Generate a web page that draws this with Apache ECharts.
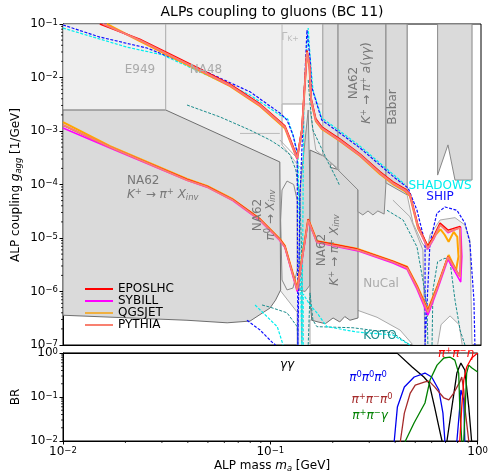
<!DOCTYPE html>
<html>
<head>
<meta charset="utf-8">
<script src="https://cdn.jsdelivr.net/npm/echarts@6/dist/echarts.min.js"></script>
<style>html,body{margin:0;padding:0;background:#fff}#main{width:491px;height:476px}</style>
</head>
<body>
<div id="main"></div>
<script>
// ---- model curves (upper branch then lower branch back) [mass GeV, g_agg 1/GeV]
var eposlhc = [[0.0150,0.1],[0.0233,0.052],[0.031,0.030],[0.0453,0.0144],[0.063,7.5e-3],[0.0877,3.2e-3],[0.1153,1.25e-3],[0.122,7.2e-4],[0.132,3.3e-4],[0.139,1.1e-3],[0.144,9.5e-3],[0.147,0.032],[0.151,0.018],[0.154,4.0e-3],[0.162,1.7e-3],[0.173,1.2e-3],[0.211,7.1e-4],[0.264,3.7e-4],[0.329,1.72e-4],[0.379,1.12e-4],[0.433,8.3e-5],[0.457,6.7e-5],[0.5,1.7e-5],[0.557,7.0e-6],[0.595,1.1e-5],[0.637,1.9e-5],[0.695,1.4e-5],[0.794,1.65e-5],[0.80,5.0e-6],[0.794,1.9e-6],[0.695,4.5e-6],[0.62,1.25e-6],[0.557,4.3e-7],[0.494,1.25e-6],[0.443,2.85e-6],[0.379,3.65e-6],[0.255,6.2e-6],[0.164,8.7e-6],[0.149,2.25e-5],[0.132,1.1e-6],[0.1153,7.0e-6],[0.109,9.5e-6],[0.0877,2.25e-5],[0.065,5.2e-5],[0.0489,9.2e-5],[0.0392,1.24e-4],[0.0168,5.0e-4],[0.01,1.29e-3]];
var sybill = [[0.0155,0.1],[0.0233,0.05],[0.031,0.0285],[0.0453,0.0137],[0.063,7.1e-3],[0.0877,3.0e-3],[0.1153,1.18e-3],[0.122,6.7e-4],[0.132,3.0e-4],[0.139,1.0e-3],[0.144,8.8e-3],[0.147,0.029],[0.151,0.0168],[0.154,3.7e-3],[0.162,1.58e-3],[0.173,1.13e-3],[0.211,6.7e-4],[0.264,3.5e-4],[0.329,1.62e-4],[0.379,1.06e-4],[0.433,7.8e-5],[0.457,6.3e-5],[0.5,1.6e-5],[0.557,6.2e-6],[0.595,9.6e-6],[0.637,1.8e-5],[0.695,1.25e-5],[0.80,1.6e-5],[0.81,4.5e-6],[0.80,1.5e-6],[0.695,4.0e-6],[0.62,1.1e-6],[0.557,3.6e-7],[0.494,1.1e-6],[0.443,2.6e-6],[0.379,3.4e-6],[0.255,5.8e-6],[0.164,8.2e-6],[0.149,2.1e-5],[0.132,1.0e-6],[0.1153,6.6e-6],[0.109,9.0e-6],[0.0877,2.1e-5],[0.065,5.0e-5],[0.0489,8.9e-5],[0.0392,1.2e-4],[0.0168,4.8e-4],[0.01,1.14e-3]];
var qgsjet = [[0.0162,0.1],[0.0233,0.048],[0.031,0.0275],[0.0453,0.0132],[0.063,6.9e-3],[0.0877,2.9e-3],[0.1153,1.13e-3],[0.122,6.5e-4],[0.132,3.0e-4],[0.139,1.0e-3],[0.144,8.6e-3],[0.147,0.028],[0.151,0.0163],[0.154,3.6e-3],[0.162,1.53e-3],[0.173,1.09e-3],[0.211,6.5e-4],[0.264,3.4e-4],[0.329,1.56e-4],[0.379,1.02e-4],[0.433,7.5e-5],[0.457,6.1e-5],[0.5,1.5e-5],[0.557,7.0e-6],[0.60,1.1e-5],[0.64,1.45e-5],[0.67,1.15e-5],[0.70,8.5e-6],[0.74,1.3e-5],[0.77,1.05e-5],[0.78,4.5e-6],[0.76,2.5e-6],[0.70,4.8e-6],[0.62,1.3e-6],[0.557,4.6e-7],[0.494,1.3e-6],[0.443,2.9e-6],[0.379,3.7e-6],[0.255,6.3e-6],[0.164,8.8e-6],[0.149,2.25e-5],[0.132,1.15e-6],[0.1153,7.1e-6],[0.109,9.6e-6],[0.0877,2.25e-5],[0.065,5.3e-5],[0.0489,9.4e-5],[0.0392,1.27e-4],[0.0168,5.2e-4],[0.01,1.47e-3]];
var pythia = [[0.0155,0.1],[0.0233,0.05],[0.031,0.0287],[0.0453,0.0138],[0.063,7.2e-3],[0.0877,3.06e-3],[0.1153,1.19e-3],[0.122,6.8e-4],[0.132,3.1e-4],[0.139,1.04e-3],[0.144,9.0e-3],[0.147,0.030],[0.151,0.0171],[0.154,3.8e-3],[0.162,1.6e-3],[0.173,1.14e-3],[0.211,6.8e-4],[0.264,3.56e-4],[0.329,1.64e-4],[0.379,1.07e-4],[0.433,7.9e-5],[0.457,6.4e-5],[0.5,1.6e-5],[0.557,6.5e-6],[0.595,1.0e-5],[0.637,1.75e-5],[0.695,1.3e-5],[0.794,1.54e-5],[0.80,4.8e-6],[0.794,1.87e-6],[0.695,4.4e-6],[0.62,1.21e-6],[0.557,4.1e-7],[0.494,1.21e-6],[0.443,2.75e-6],[0.379,3.56e-6],[0.255,6.0e-6],[0.164,8.4e-6],[0.149,2.17e-5],[0.132,1.07e-6],[0.1153,6.8e-6],[0.109,9.2e-6],[0.0877,2.17e-5],[0.065,5.1e-5],[0.0489,9.0e-5],[0.0392,1.21e-4],[0.0168,5.0e-4],[0.01,1.3e-3]];

// ---- projected sensitivities (dashed)
var ship = [[0.01,0.096],[0.015,0.057],[0.0252,0.0356],[0.0453,0.0144],[0.0785,5.4e-3],[0.109,2.17e-3],[0.118,1.6e-3],[0.126,8.4e-4],[0.132,3.9e-4],[0.133,1e-7],[0.1346,1e-7],[0.136,5.1e-5],[0.142,3.8e-3],[0.147,0.077],[0.152,0.023],[0.155,6.6e-3],[0.173,1.6e-3],[0.211,9.2e-4],[0.264,4.8e-4],[0.329,2.3e-4],[0.388,1.32e-4],[0.448,8.6e-5],[0.494,3.3e-5],[0.54,8.1e-6],[0.54,1e-7],[0.552,1e-7],[0.57,8.1e-6],[0.615,2.9e-5],[0.673,3.8e-5],[0.767,3.3e-5],[0.838,1.9e-5],[0.885,8.1e-6],[0.925,6.9e-7],[0.935,1e-7]];
var shipLow = [[0.0759,2.9e-7],[0.0877,1.9e-7],[0.101,1.09e-7],[0.104,1e-7]];
var shadows = [[0.01,0.084],[0.0202,0.037],[0.03,0.0264],[0.0453,0.0127],[0.0785,4.7e-3],[0.109,2.0e-3],[0.119,1.67e-3],[0.127,7.7e-4],[0.133,3.6e-4],[0.139,1e-7],[0.141,1e-7],[0.142,3.8e-3],[0.149,0.084],[0.152,0.0264],[0.157,5.8e-3],[0.173,1.75e-3],[0.211,1.0e-3],[0.264,5.2e-4],[0.329,2.5e-4],[0.388,1.44e-4],[0.433,1e-4]];
var shadowsLowA = [[0.083,5.6e-7],[0.0906,4.0e-7],[0.106,2.2e-7],[0.113,1e-7]];
var shadowsLowB = [[0.141,1e-7],[0.141,9e-7],[0.152,5.6e-7],[0.164,4.0e-7],[0.183,2.2e-7],[0.255,1.75e-7],[0.379,1.54e-7],[0.457,1e-7]];
var tealA = [[0.0392,3.06e-3],[0.0564,1.83e-3],[0.0785,1.04e-3],[0.0978,6.8e-4],[0.109,5.2e-4],[0.122,3.6e-4],[0.13,1.87e-4],[0.136,5.1e-5],[0.139,3.9e-6],[0.139,1e-7]];
var tealB = [[0.149,9e-3],[0.152,3.3e-3],[0.157,1.04e-3],[0.183,2.9e-4],[0.205,1.21e-4],[0.211,9.4e-5]];
var tealC = [[0.0896,5.6e-7],[0.0978,5.1e-7],[0.118,4.0e-7],[0.132,2.2e-7],[0.133,1e-7]];
var koto = [[0.149,1e-7],[0.152,9.4e-7],[0.157,2.9e-7],[0.164,2.2e-7],[0.244,2.1e-7],[0.379,1.68e-7],[0.457,1e-7]];
var tealD = [[0.355,3.3e-5],[0.424,2.17e-5],[0.494,6.8e-6],[0.527,1.64e-6],[0.552,5.1e-7],[0.557,1e-7]];
var tealE = [[0.583,1e-7],[0.589,1.07e-6],[0.62,3.6e-6],[0.673,4.2e-6],[0.711,3.6e-6],[0.751,6.9e-7],[0.794,1.9e-7],[0.838,1e-7]];

// ---- excluded regions
var lightRegion = [[0.01,0.1],[0.443,0.1],[0.443,6.4e-5],[0.473,1.9e-5],[0.523,8.1e-6],[0.552,6.0e-6],[0.57,1.14e-5],[0.637,2.17e-5],[0.751,2.4e-5],[0.838,1.75e-5],[0.885,9.2e-6],[0.906,1e-7],[0.473,1e-7],[0.41,1.9e-7],[0.318,3.3e-7],[0.255,4.5e-7],[0.152,2.9e-7],[0.152,1e-7],[0.132,1e-7],[0.132,4.1e-7],[0.109,1.07e-6],[0.01,1.07e-6]];
var na62Kinv = [[0.01,2.47e-3],[0.031,2.47e-3],[0.109,2.64e-4],[0.110,1.07e-6],[0.104,6.9e-7],[0.0978,4.9e-7],[0.0785,2.8e-7],[0.061,2.6e-7],[0.0392,2.9e-7],[0.01,3.6e-7]];
var na62Pi0 = [[0.1346,1.07e-6],[0.136,7.9e-5],[0.144,6.8e-4],[0.149,2.47e-3],[0.152,7.9e-5],[0.152,1.32e-6],[0.144,1e-6]];
var na62Kinv2 = [[0.152,4.4e-4],[0.194,2.9e-4],[0.19,2.1e-4],[0.211,1.87e-4],[0.258,7.9e-5],[0.258,3.2e-7],[0.236,2.9e-7],[0.223,3.4e-7],[0.211,2.7e-7],[0.196,3.2e-7],[0.18,2.5e-7],[0.166,2.7e-7],[0.155,2.9e-7],[0.152,6.9e-7]];
var strip = [[0.175,0.1],[0.207,0.1],[0.207,1.87e-4],[0.175,3.6e-4]];
var na62gg = [[0.207,0.1],[0.351,0.1],[0.351,1.07e-4],[0.344,2.8e-5],[0.321,3.2e-5],[0.304,2.7e-5],[0.288,3.2e-5],[0.272,2.7e-5],[0.258,3.1e-5],[0.258,7.9e-5],[0.207,1.87e-4]];
var babar = [[0.351,0.1],[0.443,0.1],[0.443,6.4e-5],[0.351,1.07e-4]];
var rightBand = [[0.62,0.1],[0.906,0.1],[0.906,1.21e-4],[0.751,1.21e-4],[0.695,5.5e-4],[0.62,1.5e-4]];
var gapKaon = [[0.1117,3.2e-3],[0.142,3.2e-3],[0.142,1.87e-4],[0.133,2.3e-4],[0.122,3.6e-4],[0.1117,5.5e-4]];
var archHole = [[0.62,1e-7],[0.644,2.4e-7],[0.711,3.5e-7],[0.786,2.4e-7],[0.813,1e-7]];
var ovalPi0 = [[0.1117,7.9e-5],[0.118,1.16e-4],[0.127,1e-4],[0.132,5.1e-5],[0.132,2.5e-6],[0.126,1.16e-6],[0.118,1.07e-6],[0.1117,1.64e-6],[0.110,2.17e-5],[0.1117,7.9e-5]];
var e949Edge = [[0.031,0.1],[0.031,2.47e-3]];
var na48Edge = [[0.0703,9e-4],[0.109,9e-4]];
var gammaKEdge = [[0.1117,0.1],[0.1117,5.5e-4]];
var gammaKBottom = [[0.1117,3.2e-3],[0.175,3.2e-3]];
var funnelL = [[0.109,6.8e-4],[0.132,3.1e-4],[0.133,7.9e-5]];
var funnelR = [[0.152,2.47e-3],[0.162,4.4e-4],[0.211,1.87e-4]];
var nucalEdge = [[0.379,5.1e-5],[0.457,2.5e-5],[0.527,6.0e-6],[0.54,1e-7]];

// ---- branching ratios (lower panel)
var brGG = [[0.01,0.98],[0.41,0.98],[0.483,0.48],[0.55,0.285],[0.583,0.208],[0.62,0.059],[0.65,0.021],[0.673,0.01],[0.68,1e-3],[0.711,0.01],[0.751,0.059],[0.794,0.35],[0.83,0.59],[0.867,0.41],[0.906,0.059],[0.935,0.01],[0.94,1e-3]];
var brPi0 = [[0.394,1e-3],[0.396,0.01],[0.41,0.059],[0.443,0.169],[0.494,0.285],[0.557,0.35],[0.6,0.285],[0.65,0.144],[0.68,0.043],[0.695,0.01],[0.70,1e-3],[0.79,1e-3],[0.794,0.01],[0.82,0.059],[0.83,0.144],[0.857,0.086],[0.867,0.01],[0.87,1e-3]];
var brPiPiPi0 = [[0.42,1e-3],[0.424,0.01],[0.443,0.043],[0.473,0.123],[0.5,0.187],[0.557,0.22],[0.583,0.23],[0.62,0.17],[0.687,0.095],[0.726,0.086],[0.767,0.123],[0.82,0.22],[0.838,0.285],[0.857,0.144],[0.867,0.059],[0.906,0.01],[0.91,1e-3]];
var brPiPiG = [[0.443,1e-3],[0.448,0.01],[0.494,0.026],[0.557,0.073],[0.589,0.243],[0.637,0.53],[0.687,0.77],[0.734,0.81],[0.776,0.69],[0.81,0.35],[0.82,0.059],[0.838,0.01],[0.845,1e-3],[0.852,1e-3],[0.857,0.01],[0.885,0.35],[0.906,0.53],[0.935,0.46],[1.0,0.37]];
var brPiPiEta = [[0.81,1e-3],[0.82,0.01],[0.838,0.059],[0.857,0.243],[0.885,0.48],[0.935,0.77],[1.0,1.0]];

var yTicksTop = [1e-7,1e-6,1e-5,1e-4,1e-3,1e-2,1e-1];
var yTicksBr = [1e-2,1e-1,1];
var xTicks = [1e-2,1e-1,1];

// minor tick positions (2..9 in every decade) for the log axes
function minorOf(decades) {
    var out = [];
    for (var i = 0; i < decades.length - 1; i++)
        for (var k = 2; k <= 9; k++) out.push(decades[i] * k);
    return out;
}

var FONT = 'DejaVu Sans';
var chart = echarts.init(document.getElementById('main'));

function pow10(v) {
    var e = Math.round(Math.log10(v));
    return '10{sup|' + (e < 0 ? '\u2212' + (-e) : e) + '}';
}
var tickRich = { sup: { fontSize: 8.5, fontFamily: FONT, verticalAlign: 'top', lineHeight: 10 } };

function area(pts, fill, stroke, z) {
    return {
        type: 'custom', xAxisIndex: 0, yAxisIndex: 0, z: z, silent: true, clip: true,
        data: pts,
        renderItem: function (params, api) {
            if (params.dataIndex !== 0) return;
            var p = pts.map(function (d) { return api.coord(d); });
            return { type: 'polygon', shape: { points: p }, style: { fill: fill, stroke: stroke, lineWidth: 1 } };
        }
    };
}
function curve(data, color, width, dash, z, name, grid) {
    return {
        type: 'line', name: name, data: data, symbol: 'none', silent: true, z: z,
        xAxisIndex: grid || 0, yAxisIndex: grid || 0, clip: true,
        itemStyle: { color: color },
        lineStyle: { color: color, width: width, type: dash ? [3, 1.5] : 'solid' }
    };
}
// small outward ticks, drawn through the axis scale
function minorTickSeries(vals, dir, grid, edge) {
    return {
        type: 'custom', xAxisIndex: grid, yAxisIndex: grid, z: 20, silent: true, clip: false,
        data: vals.map(function (v) { return dir === 'y' ? [edge, v] : [v, edge]; }),
        renderItem: function (params, api) {
            var p = api.coord([api.value(0), api.value(1)]);
            var shape = dir === 'y' ? { x1: p[0] - 2, y1: p[1], x2: p[0], y2: p[1] } : { x1: p[0], y1: p[1], x2: p[0], y2: p[1] + 2 };
            return { type: 'line', shape: shape, style: { stroke: '#000', lineWidth: 0.8 } };
        }
    };
}

var series = [
    area(lightRegion, '#efefef', '#aaaaaa', 1),
    area(gapKaon, '#ffffff', '#bbbbbb', 2),
    area(archHole, '#ffffff', '#aaaaaa', 2),
    area(na62Kinv, '#dadada', '#6e6e6e', 3),
    area(na62Pi0, '#d4d4d4', '#888888', 3),
    area(na62Kinv2, '#d8d8d8', '#6e6e6e', 3),
    area(strip, '#dedede', '#999999', 3),
    area(na62gg, '#dadada', '#888888', 3),
    area(babar, '#dadada', '#888888', 3),
    area(rightBand, '#dadada', '#888888', 3),
    area(ovalPi0, 'rgba(0,0,0,0)', '#888888', 4),
    curve(e949Edge, '#aaaaaa', 1, false, 4),
    curve(na48Edge, '#bbbbbb', 1, false, 4),
    curve(gammaKEdge, '#bbbbbb', 1, false, 4),
    curve(gammaKBottom, '#bbbbbb', 1, false, 4),
    curve(funnelL, '#aaaaaa', 1, false, 4),
    curve(funnelR, '#aaaaaa', 1, false, 4),
    curve(nucalEdge, '#aaaaaa', 1, false, 4),
    curve(tealA, '#1a8c8c', 1, true, 5),
    curve(tealB, '#1a8c8c', 1, true, 5),
    curve(tealC, '#1a8c8c', 1, true, 5),
    curve(koto, '#1a8c8c', 1, true, 5),
    curve(tealD, '#1a8c8c', 1, true, 5),
    curve(tealE, '#1a8c8c', 1, true, 5),
    curve(shadows, '#00eeee', 1.2, true, 6),
    curve(shadowsLowA, '#00eeee', 1.2, true, 6),
    curve(shadowsLowB, '#00eeee', 1.2, true, 6),
    curve(ship, '#1010ff', 1.2, true, 6),
    curve(shipLow, '#1010ff', 1.2, true, 6),
    curve(qgsjet, '#ffa500', 2, false, 7, 'QGSJET'),
    curve(sybill, '#ff00ff', 1.5, false, 8, 'SYBILL'),
    curve(eposlhc, '#ff0000', 1.5, false, 9, 'EPOSLHC'),
    curve(pythia, '#f88070', 1.8, false, 10, 'PYTHIA'),
    curve(brGG, '#000000', 1.3, false, 5, null, 1),
    curve(brPi0, '#0000ee', 1.3, false, 5, null, 1),
    curve(brPiPiPi0, '#a52a2a', 1.3, false, 5, null, 1),
    curve(brPiPiG, '#008000', 1.3, false, 5, null, 1),
    curve(brPiPiEta, '#ff0000', 1.3, false, 5, null, 1),
    minorTickSeries(minorOf(yTicksTop), 'y', 0, 0.01),
    minorTickSeries(minorOf(yTicksBr), 'y', 1, 0.01),
    minorTickSeries(minorOf(xTicks), 'x', 1, 0.01)
];

function txt(x, y, text, color, size, opt) {
    opt = opt || {};
    return {
        type: 'text', x: x, y: y, rotation: opt.rot || 0, z: 100, silent: true,
        style: {
            text: text, fill: color, fontSize: size, fontFamily: FONT,
            align: opt.align || 'center', verticalAlign: 'middle', lineHeight: opt.lh || size + 2,
            rich: {
                i: { fontStyle: 'italic', fontSize: size, fontFamily: FONT },
                sup: { fontSize: size * 0.7, fontFamily: FONT, verticalAlign: 'top', lineHeight: size * 0.8 },
                sub: { fontSize: size * 0.7, fontFamily: FONT, verticalAlign: 'bottom', lineHeight: size * 0.8 },
                isub: { fontSize: size * 0.7, fontFamily: FONT, fontStyle: 'italic', verticalAlign: 'bottom', lineHeight: size * 0.8 }
            }
        }
    };
}
var R90 = Math.PI / 2;
var graphics = [
    txt(272, 12, 'ALPs coupling to gluons (BC 11)', '#000', 14),
    txt(16, 185, 'ALP coupling {i|g}{isub|agg} [1/GeV]', '#000', 12, { rot: R90 }),
    txt(16, 397, 'BR', '#000', 12, { rot: R90 }),
    txt(272, 466, 'ALP mass {i|m}{isub|a} [GeV]', '#000', 12),
    txt(140, 70, 'E949', '#aaaaaa', 12),
    txt(206, 70, 'NA48', '#aaaaaa', 12),
    txt(290, 37, '\u0393{sub|K+}', '#bbbbbb', 11),
    txt(127, 188, 'NA62\n{i|K}{sup|+} \u2192 {i|\u03c0}{sup|+}{i| X}{isub|inv}', '#777777', 12, { align: 'left', lh: 14 }),
    txt(264, 215, 'NA62\n{i|\u03c0}{sup|0} \u2192 {i|X}{isub|inv}', '#777777', 12, { rot: R90, lh: 13 }),
    txt(328, 250, 'NA62\n{i|K}{sup|+} \u2192 {i|\u03c0}{sup|+}{i| X}{isub|inv}', '#777777', 12, { rot: R90, lh: 13 }),
    txt(360, 83, 'NA62\n{i|K}{sup|+} \u2192 {i|\u03c0}{sup|+}{i| a}({i|\u03b3\u03b3})', '#777777', 12, { rot: R90, lh: 13 }),
    txt(393, 107, 'Babar', '#777777', 12, { rot: R90 }),
    txt(381, 284, 'NuCal', '#aaaaaa', 12),
    txt(380, 336, 'KOTO', '#1a8c8c', 12),
    txt(440, 186, 'SHADOWS', '#00eeee', 12),
    txt(440, 197, 'SHIP', '#1010ff', 12),
    txt(287, 365, '{i|\u03b3\u03b3}', '#000000', 12),
    txt(368, 378, '{i|\u03c0}{sup|0}{i|\u03c0}{sup|0}{i|\u03c0}{sup|0}', '#0000ee', 12),
    txt(372, 400, '{i|\u03c0}{sup|+}{i|\u03c0}{sup|\u2212}{i|\u03c0}{sup|0}', '#a52a2a', 12),
    txt(370, 416, '{i|\u03c0}{sup|+}{i|\u03c0}{sup|\u2212}{i|\u03b3}', '#008000', 12),
    txt(456, 354, '{i|\u03c0}{sup|+}{i|\u03c0}{sup|\u2212}{i|\u03b7}', '#ff0000', 12)
];

var axisCommon = {
    type: 'log', logBase: 10, splitLine: { show: false },
    axisLine: { show: true, lineStyle: { color: '#000', width: 1 } },
    axisTick: { show: true, length: 3.5, lineStyle: { color: '#000' } },
    axisLabel: { color: '#000', fontSize: 12, fontFamily: FONT, formatter: pow10, rich: tickRich, margin: 5 }
};

chart.setOption({
    animation: false,
    backgroundColor: '#fff',
    grid: [
        { left: 63, top: 24, width: 418, height: 321, show: true, borderColor: '#000', borderWidth: 1, backgroundColor: 'transparent' },
        { left: 63, top: 353, width: 418, height: 88, show: true, borderColor: '#000', borderWidth: 1, backgroundColor: 'transparent' }
    ],
    xAxis: [
        Object.assign({}, axisCommon, { gridIndex: 0, min: xTicks[0], max: xTicks[2], axisLabel: { show: false }, axisTick: { show: false } }),
        Object.assign({}, axisCommon, { gridIndex: 1, min: xTicks[0], max: xTicks[2] })
    ],
    yAxis: [
        Object.assign({}, axisCommon, { gridIndex: 0, min: yTicksTop[0], max: yTicksTop[yTicksTop.length - 1], interval: 1 }),
        Object.assign({}, axisCommon, { gridIndex: 1, min: yTicksBr[0], max: yTicksBr[2], interval: 1 })
    ],
    legend: {
        left: 80, top: 278, orient: 'vertical', itemWidth: 28, itemHeight: 2, itemGap: 0,
        data: [
            { name: 'EPOSLHC', icon: 'rect', itemStyle: { color: '#ff0000' } },
            { name: 'SYBILL', icon: 'rect', itemStyle: { color: '#ff00ff' } },
            { name: 'QGSJET', icon: 'rect', itemStyle: { color: '#f0b040' } },
            { name: 'PYTHIA', icon: 'rect', itemStyle: { color: '#f88070' } }
        ],
        textStyle: { fontSize: 12, fontFamily: FONT, color: '#000', lineHeight: 12 },
        selectedMode: false
    },
    graphic: graphics,
    series: series
});
</script>
</body>
</html>
